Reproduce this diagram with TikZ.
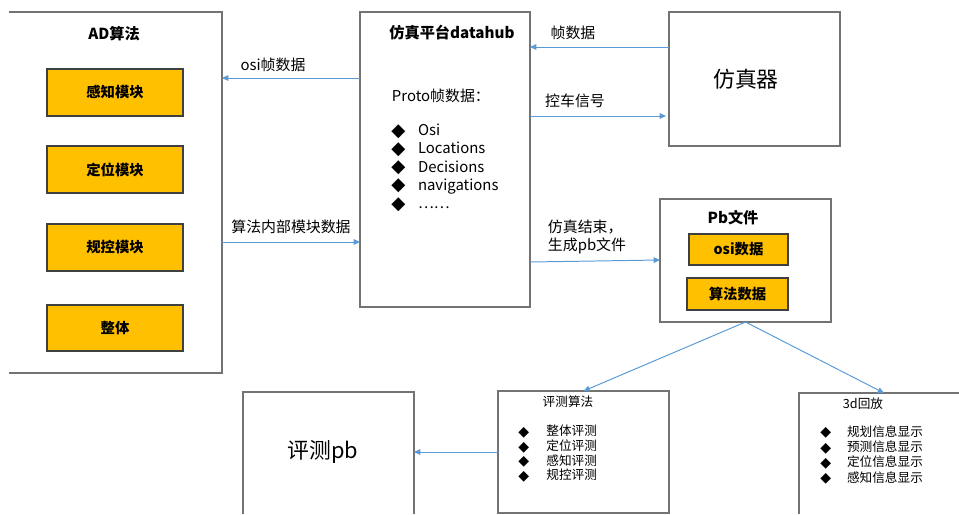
\documentclass[tikz,border=0pt]{standalone}
\usepackage{fontspec}
\setmainfont{Noto Sans CJK SC}
\newfontfamily\symfont{DejaVu Sans}
\usetikzlibrary{arrows.meta}
\definecolor{flowblue}{HTML}{5B9BD5}
\definecolor{modyellow}{HTML}{FFC000}
\newdimen\unitpx \unitpx=0.025cm
\newcommand\bigdia{\makebox[19pt][l]{\symfont\fontsize{13}{10}\selectfont\raisebox{-0.5pt}{◆}}}
\newcommand\smalldia[1]{\makebox[#1][l]{\symfont\fontsize{10}{8}\selectfont\raisebox{-0.5pt}{◆}}}

\begin{document}
\begin{tikzpicture}[x=0.025cm,y=-0.025cm,
  >={Triangle[length=4.5pt,width=4pt]},
  frame/.style={draw=black!55,line width=0.8pt},
  box/.style={anchor=north west,inner sep=0pt,outer sep=0pt},
  modbox/.style={box,fill=modyellow,draw=black!75,line width=0.8pt},
  modtext/.style={font=\fontsize{10.2}{12}\selectfont\bfseries},
  flow/.style={->,draw=flowblue,line width=0.7pt},
  lbl/.style={font=\fontsize{10.6}{12}\selectfont},
  ttl/.style={font=\fontsize{10.8}{12}\selectfont\bfseries},
  small/.style={font=\fontsize{9}{10}\selectfont},
  blist/.style={anchor=north west,align=left,inner sep=0pt}]
\useasboundingbox (0,0) rectangle (959,514);
% left block: AD algorithm
\node[box,minimum width=213\unitpx,minimum height=361\unitpx] (ad) at (9,12) {};
\draw[frame] (ad.north west) -- (ad.north east) -- (ad.south east) -- (ad.south west);
\node[ttl] (adt) at (114,34) {AD算法};
\node[modbox,minimum width=136\unitpx,minimum height=47\unitpx] (m1) at (47,69) {};
\node[modbox,minimum width=136\unitpx,minimum height=47\unitpx] (m2) at (47,146) {};
\node[modbox,minimum width=136\unitpx,minimum height=47\unitpx] (m3) at (47,224) {};
\node[modbox,minimum width=136\unitpx,minimum height=46\unitpx] (m4) at (47,305) {};
\node[modtext] at (m1) {感知模块};
\node[modtext] at (m2) {定位模块};
\node[modtext] at (m3) {规控模块};
\node[modtext] at (m4) {整体};
% datahub
\node[box,frame,minimum width=170\unitpx,minimum height=295\unitpx] (hub) at (360,12) {};
\node[ttl] (hubt) at (452,33) {仿真平台datahub};
\node[lbl,anchor=west] (proto) at (387,96) {Proto帧数据：};
\node[blist,font=\fontsize{10.6}{12.9}\selectfont] (hubl) at (391,124)
  {\bigdia Osi\\
   \bigdia Locations\\
   \bigdia Decisions\\
   \bigdia navigations\\
   \bigdia ……};
% simulator
\node[box,frame,minimum width=171\unitpx,minimum height=134\unitpx] (sim) at (669,12) {};
\node[font=\fontsize{15.5}{18}\selectfont] (simt) at (746,79) {仿真器};
% pb file
\node[box,frame,minimum width=171\unitpx,minimum height=123\unitpx] (pb) at (660,199) {};
\node[ttl] (pbt) at (733,218) {Pb文件};
\node[modbox,minimum width=99\unitpx,minimum height=31\unitpx] (osid) at (689,234) {};
\node[modbox,minimum width=101\unitpx,minimum height=32\unitpx] (algd) at (687,278) {};
\node[modtext] at (osid) {osi数据};
\node[modtext] at (algd) {算法数据};
% evaluation
\node[box,frame,minimum width=171\unitpx,minimum height=122\unitpx] (evalg) at (498,391) {};
\node[small] (evalgt) at (568,402) {评测算法};
\node[blist,font=\fontsize{9}{10.4}\selectfont] (evl) at (518,425)
  {\smalldia{20pt}整体评测\\
   \smalldia{20pt}定位评测\\
   \smalldia{20pt}感知评测\\
   \smalldia{20pt}规控评测};
\node[box,minimum width=171\unitpx,minimum height=122\unitpx] (evpb) at (243,392) {};
\draw[frame] (evpb.south west) -- (evpb.north west) -- (evpb.north east) -- (evpb.south east);
\node[font=\fontsize{15.5}{18}\selectfont] (evpbt) at (323,452) {评测pb};
% 3d replay
\node[box,minimum width=170\unitpx,minimum height=121\unitpx] (replay) at (799,393) {};
\draw[frame] (replay.south west) -- (replay.north west) -- (replay.north east);
\node[small] (replayt) at (863,404) {3d回放};
\node[blist,font=\fontsize{9}{10.9}\selectfont] (rpl) at (820,425)
  {\smalldia{19pt}规划信息显示\\
   \smalldia{19pt}预测信息显示\\
   \smalldia{19pt}定位信息显示\\
   \smalldia{19pt}感知信息显示};
% connectors
\draw[flow] (sim.west |- 0,47) -- (hub.east |- 0,47);
\node[lbl] (l1) at (573,33) {帧数据};
\draw[flow,shorten >=3\unitpx] (hub.east |- 0,116) -- (sim.west |- 0,116);
\node[lbl] (l2) at (575,101) {控车信号};
\draw[flow] (hub.west |- 0,78) -- (ad.east |- 0,78);
\node[lbl] (l3) at (273,65) {osi帧数据};
\draw[flow] (ad.east |- 0,242) -- (hub.west |- 0,242);
\node[lbl] (l4) at (291,227) {算法内部模块数据};
\draw[flow] (hub.east |- 0,262) -- (pb.west |- 0,260);
\node[lbl,align=left,anchor=west,font=\fontsize{10.6}{13}\selectfont] (l5) at (543,237) {仿真结束，\\生成pb文件};
\draw[flow] (pb.south) -- (evalg.north);
\draw[flow] (pb.south) -- (replay.north);
\draw[flow] (evalg.west |- 0,452) -- (evpb.east |- 0,452);
\end{tikzpicture}
\end{document}
